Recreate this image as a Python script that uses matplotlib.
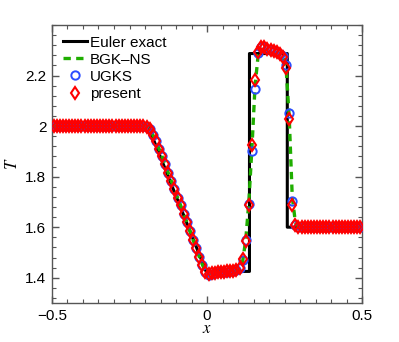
import numpy as np
import matplotlib
matplotlib.use("Agg")
import matplotlib.pyplot as plt
from matplotlib.ticker import MultipleLocator

# ---------------- data ----------------
# Euler exact solution (piecewise)
exact_x = [-0.5, -0.19, -0.003, 0.137, 0.137, 0.259, 0.259, 0.5]
exact_T = [2.0, 2.0, 1.425, 1.425, 2.287, 2.287, 1.600, 1.600]

# cell centres (100 cells)
grid_x = np.round(np.linspace(-0.495, 0.495, 100), 3)

present_T = [2.0] * 30 + [
    1.998, 1.990, 1.966, 1.940, 1.911, 1.880, 1.849, 1.815, 1.782, 1.750,
    1.717, 1.686, 1.653, 1.620, 1.585, 1.550, 1.516, 1.483, 1.452, 1.424,
    1.414, 1.418, 1.420, 1.422, 1.423, 1.424, 1.425, 1.426, 1.428, 1.431,
    1.440, 1.473, 1.545, 1.686, 1.924, 2.181, 2.293, 2.312, 2.311, 2.306,
    2.300, 2.296, 2.292, 2.287, 2.275, 2.228, 2.030, 1.686, 1.607, 1.600,
] + [1.6] * 20

ugks_T = [2.0] * 30 + [
    1.998, 1.990, 1.966, 1.940, 1.911, 1.880, 1.849, 1.815, 1.782, 1.750,
    1.717, 1.686, 1.653, 1.620, 1.585, 1.550, 1.516, 1.483, 1.452, 1.422,
    1.410, 1.416, 1.419, 1.421, 1.422, 1.423, 1.424, 1.425, 1.427, 1.430,
    1.438, 1.472, 1.548, 1.690, 1.902, 2.148, 2.290, 2.311, 2.311, 2.306,
    2.300, 2.296, 2.292, 2.287, 2.276, 2.241, 2.053, 1.704, 1.610, 1.600,
] + [1.6] * 20

bgk_T = [2.0] * 30 + [
    1.998, 1.990, 1.966, 1.940, 1.911, 1.880, 1.849, 1.815, 1.782, 1.750,
    1.717, 1.686, 1.653, 1.620, 1.585, 1.550, 1.516, 1.483, 1.452, 1.424,
    1.416, 1.418, 1.420, 1.422, 1.423, 1.424, 1.425, 1.426, 1.427, 1.429,
    1.435, 1.465, 1.550, 1.700, 1.915, 2.160, 2.280, 2.302, 2.305, 2.302,
    2.298, 2.294, 2.290, 2.285, 2.272, 2.232, 2.040, 1.720, 1.620, 1.601,
] + [1.6] * 20

labels = ["Euler exact", "BGK\u2013NS", "UGKS", "present"]
x_ticks = [-0.5, 0.0, 0.5]
x_ticklabels = ["\u22120.5", "0", "0.5"]
y_ticks = [1.4, 1.6, 1.8, 2.0, 2.2]
y_ticklabels = ["1.4", "1.6", "1.8", "2", "2.2"]

# ---------------- plot ----------------
plt.rcParams["font.family"] = ["Liberation Sans", "DejaVu Sans"]
plt.rcParams["mathtext.fontset"] = "stix"

fig = plt.figure(figsize=(3.99, 3.42), dpi=100)
ax = fig.add_axes([52 / 399, 39 / 342, 310 / 399, 278 / 342])

ax.plot(exact_x, exact_T, color="black", lw=2.2, label=labels[0], zorder=2)
ax.plot(grid_x, bgk_T, color="#1fae00", lw=2.4, ls=(0, (2.2, 1.6)),
        label=labels[1], zorder=3)
ax.plot(grid_x, ugks_T, ls="none", marker="o", ms=6.0, mfc="none",
        mec="#2b4dff", mew=1.4, label=labels[2], zorder=4)
ax.plot(grid_x, present_T, ls="none", marker="d", ms=6.0, mfc="none",
        mec="#ff0000", mew=1.5, label=labels[3], zorder=5)

ax.set_xlim(-0.5, 0.5)
ax.set_ylim(1.3, 2.4)
ax.set_xticks(x_ticks)
ax.set_xticklabels(x_ticklabels)
ax.xaxis.set_minor_locator(MultipleLocator(0.05))
ax.set_yticks(y_ticks)
ax.set_yticklabels(y_ticklabels)
ax.yaxis.set_minor_locator(MultipleLocator(0.04))
ax.tick_params(which="both", direction="in", top=True, right=True,
               labelsize=11, color="#555555")
ax.tick_params(which="major", length=5, width=1.0, pad=4)
ax.tick_params(which="minor", length=3, width=0.8)
for s in ax.spines.values():
    s.set_color("#555555")
    s.set_linewidth(1.0)

ax.set_xlabel(r"$x$", fontsize=12, labelpad=-1)
ax.set_ylabel(r"$T$", fontsize=12, labelpad=4)

leg = ax.legend(loc="upper left", frameon=False, fontsize=11,
                handlelength=1.6, handletextpad=0.2, labelspacing=0.2,
                borderaxespad=0.2, borderpad=0.5)

fig.savefig("out.png", dpi=100)
